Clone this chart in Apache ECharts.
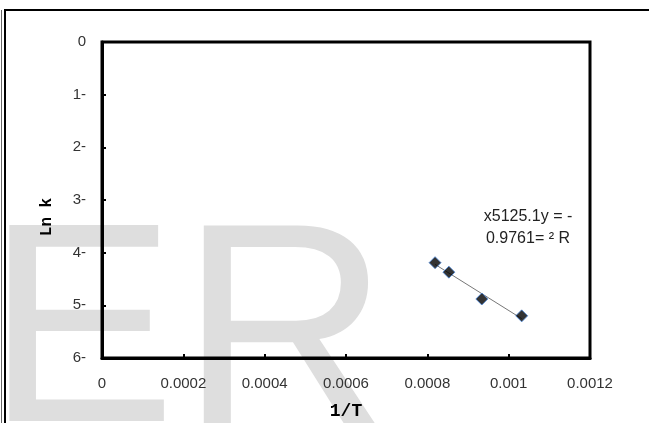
<!DOCTYPE html>
<html>
<head>
<meta charset="utf-8">
<script src="https://cdn.jsdelivr.net/npm/echarts@6/dist/echarts.min.js"></script>
<style>html,body{margin:0;padding:0;background:#fff}#c{width:649px;height:423px}</style>
</head>
<body>
<div id="c"></div>
<script>
// ---- data ----
const invT = [0.000819, 0.000853, 0.000934, 0.001032];
const lnK = [-4.19, -4.37, -4.88, -5.20];
const xTickLabels = ['0', '0.0002', '0.0004', '0.0006', '0.0008', '0.001', '0.0012'];
const yTickLabels = ['0', '1-', '2-', '3-', '4-', '5-', '6-'];
const eqLine1 = 'x5125.1y = -';
const eqLine2 = '0.9761= ² R';
const xName = '1/T';
const yName = 'Ln k';
const watermarkLetters = ['E', 'R'];

// least-squares trendline over the data range
const n = invT.length;
const mx = invT.reduce((a, b) => a + b, 0) / n;
const my = lnK.reduce((a, b) => a + b, 0) / n;
let sxy = 0, sxx = 0;
for (let i = 0; i < n; i++) { sxy += (invT[i] - mx) * (lnK[i] - my); sxx += (invT[i] - mx) ** 2; }
const slope = sxy / sxx, icpt = my - slope * mx;
const xMin = Math.min(...invT), xMax = Math.max(...invT);
const trend = [[xMin, slope * xMin + icpt], [xMax, slope * xMax + icpt]];

const chart = echarts.init(document.getElementById('c'), null, {renderer: 'canvas'});
chart.setOption({
  animation: false,
  backgroundColor: '#fff',
  grid: {left: 102, right: 59, top: 42, bottom: 65, show: true, borderColor: '#000', borderWidth: 3,
    containLabel: false, outerBoundsMode: 'none'},
  xAxis: {
    type: 'value', min: 0, max: 0.0012, interval: 0.0002,
    name: xName, nameLocation: 'middle', nameGap: 44,
    nameTextStyle: {fontFamily: 'Liberation Mono', fontWeight: 'bold', fontSize: 18, color: '#000'},
    axisLine: {show: true, onZero: false, lineStyle: {color: '#000', width: 3}},
    axisTick: {show: true, inside: true, length: 4, lineStyle: {color: '#000', width: 2}},
    splitLine: {show: false},
    axisLabel: {margin: 18, fontFamily: 'Liberation Sans', fontSize: 15, color: '#333',
      formatter: v => xTickLabels[Math.round(v / 0.0002)]}
  },
  yAxis: {
    type: 'value', min: -6, max: 0, interval: 1,
    axisLine: {show: true, onZero: false, lineStyle: {color: '#000', width: 3}},
    axisTick: {show: true, inside: true, length: 4, lineStyle: {color: '#000', width: 2}},
    splitLine: {show: false},
    axisLabel: {margin: 16, fontFamily: 'Liberation Sans', fontSize: 15, color: '#333',
      formatter: v => yTickLabels[Math.round(-v)]}
  },
  graphic: [
    {type: 'text', z: -100, left: -14, top: 200, style: {text: watermarkLetters[0], fontFamily: 'Liberation Sans', fontSize: 285, fill: '#dedede'}},
    {type: 'text', z: -100, left: 180, top: 200, style: {text: watermarkLetters[1], fontFamily: 'Liberation Sans', fontSize: 290, fill: '#dedede'}},
    {type: 'line', z: 100, shape: {x1: 4, y1: 10, x2: 649, y2: 10}, style: {stroke: '#000', lineWidth: 2}},
    {type: 'line', z: 100, shape: {x1: 5, y1: 10, x2: 5, y2: 423}, style: {stroke: '#000', lineWidth: 2}},
    {type: 'line', z: 100, shape: {x1: 1.5, y1: 10, x2: 1.5, y2: 423}, style: {stroke: '#666', lineWidth: 1}},
    {type: 'text', z: 100, x: 47, y: 217, rotation: Math.PI / 2, style: {text: yName, fontFamily: 'Liberation Mono', fontWeight: 'bold', fontSize: 16, fill: '#000', align: 'center', verticalAlign: 'middle'}},
    {type: 'text', z: 100, x: 528, y: 217, style: {text: eqLine1, fontFamily: 'Liberation Sans', fontSize: 16, fill: '#222', align: 'center', verticalAlign: 'middle'}},
    {type: 'text', z: 100, x: 528, y: 239, style: {text: eqLine2, fontFamily: 'Liberation Sans', fontSize: 16, fill: '#222', align: 'center', verticalAlign: 'middle'}}
  ],
  series: [
    {type: 'line', data: trend, symbol: 'none', lineStyle: {color: '#777', width: 1}, z: 2},
    {type: 'scatter', data: invT.map((x, i) => [x, lnK[i]]), symbol: 'diamond', symbolSize: 12,
      itemStyle: {color: '#000', borderColor: '#4a86d8', borderWidth: 1}, z: 3}
  ]
});
</script>
</body>
</html>
